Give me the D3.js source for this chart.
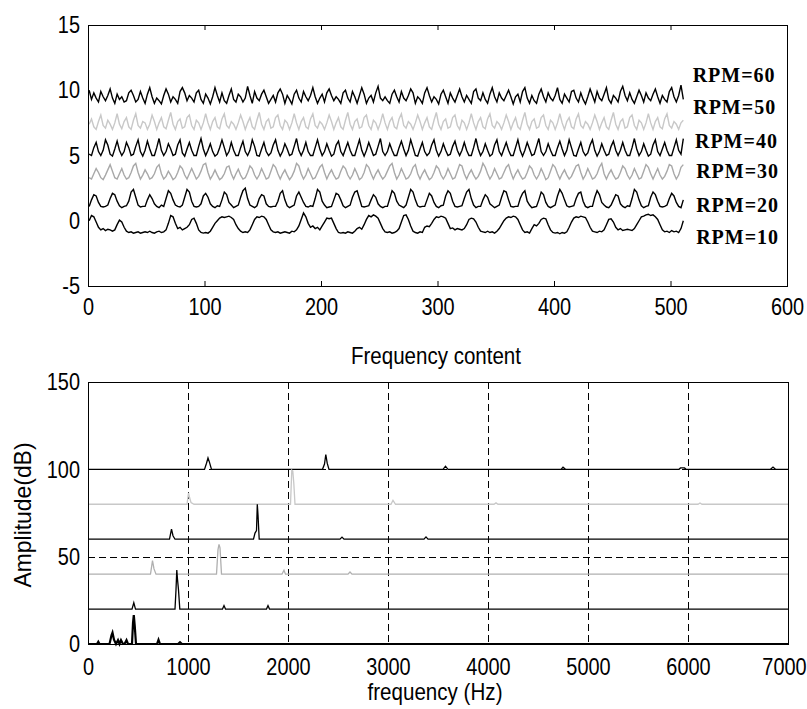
<!DOCTYPE html>
<html>
<head>
<meta charset="utf-8">
<script src="https://cdn.jsdelivr.net/npm/d3@7"></script>
<style>
  html, body { margin: 0; padding: 0; background: #fff; }
  svg { display: block; }
</style>
</head>
<body>
<svg id="chart" width="807" height="709"></svg>
<script>
// ---------------- time-domain traces (every 2nd sample) ----------------
const rpmLabels = ["RPM=60", "RPM=50", "RPM=40", "RPM=30", "RPM=20", "RPM=10"];

const rpm60 = [
  10.0,9.3,9.8,9.4,9.1,9.9,9.5,9.2,9.6,10.1,9.4,9.0,9.7,9.3,9.5,9.1,
  9.2,9.8,10.0,9.6,9.1,9.3,9.9,9.4,9.0,9.7,10.2,9.5,9.0,9.4,9.2,8.95,
  9.6,10.1,9.7,9.1,9.5,9.3,9.0,9.9,10.2,9.8,9.2,9.6,9.4,9.1,9.8,10.0,
  9.3,9.0,9.7,9.4,8.95,9.5,10.2,9.6,9.1,9.8,9.2,9.0,9.6,10.1,9.3,9.1,
  9.7,9.5,9.1,9.4,10.3,9.6,9.0,9.9,9.4,9.2,9.7,10.0,9.5,9.0,9.3,9.6,
  9.1,9.8,10.1,9.7,9.0,9.6,9.3,8.95,9.7,10.0,9.4,9.1,9.9,9.5,9.2,9.6,
  10.2,9.5,9.0,9.4,9.7,9.1,9.8,10.1,9.6,9.2,9.5,9.3,9.0,9.8,10.0,9.4,
  9.1,9.9,9.5,9.0,9.6,10.2,9.7,9.0,9.4,9.6,9.1,9.8,10.3,9.4,9.2,9.5,
  9.2,9.0,9.7,10.0,9.5,9.1,9.9,9.4,9.2,9.6,10.1,9.8,9.0,9.5,9.3,9.0,
  9.8,10.2,9.6,9.1,9.5,9.3,8.95,9.7,10.0,9.5,9.0,9.8,9.4,9.1,9.6,10.1,
  9.5,9.1,9.6,9.3,9.0,9.9,10.1,9.4,9.2,9.8,9.3,9.0,9.7,10.2,9.5,9.1,
  9.8,9.4,9.2,9.6,10.0,9.5,8.95,9.5,9.7,9.1,9.9,10.2,9.4,9.0,9.6,9.2,
  9.0,9.7,10.1,9.5,9.1,9.8,9.4,9.2,9.6,10.2,9.3,9.0,9.7,9.4,9.1,9.9,
  10.0,9.4,9.1,9.8,9.3,8.95,9.5,10.1,9.6,9.1,9.9,9.4,9.2,9.7,10.2,9.3,
  9.0,9.6,9.4,9.1,9.9,10.3,9.6,9.2,9.8,9.3,9.0,9.5,10.0,9.6,9.1,9.8,
  9.4,9.2,9.7,10.1,9.5,9.0,9.6,9.3,9.1,9.9,10.2,9.5,9.1,9.6,10.4,9.3
];
const rpm50 = [
  7.4,7.8,7.2,7.0,7.6,8.1,7.3,7.1,7.7,7.4,7.0,7.5,8.2,7.4,7.05,7.6,
  7.9,7.2,7.0,7.7,8.2,7.3,7.1,7.6,7.5,7.0,7.4,8.1,7.6,7.0,7.5,7.9,
  7.2,7.05,7.7,8.3,7.4,7.0,7.6,7.8,7.1,7.2,7.9,8.1,7.3,7.0,7.7,7.5,
  7.0,7.5,8.2,7.5,7.0,7.6,7.9,7.2,7.05,7.8,8.2,7.3,7.1,7.6,7.4,7.0,
  7.5,8.1,7.6,7.0,7.5,7.9,7.2,7.0,7.7,8.3,7.4,7.0,7.6,7.8,7.1,7.2,
  7.9,8.1,7.3,7.0,7.7,7.5,7.0,7.5,8.2,7.5,7.0,7.6,7.9,7.2,7.05,7.8,
  8.2,7.3,7.1,7.6,7.4,7.0,7.5,8.1,7.6,7.0,7.5,7.9,7.2,7.0,7.7,8.3,
  7.4,7.0,7.6,7.8,7.1,7.2,7.9,8.1,7.3,7.0,7.7,7.5,7.0,7.5,8.2,7.5,
  7.0,7.6,7.9,7.2,7.05,7.8,8.2,7.3,7.1,7.6,7.4,7.0,7.5,8.1,7.6,7.0,
  7.5,7.9,7.2,7.0,7.7,8.3,7.4,7.0,7.6,7.8,7.1,7.2,7.9,8.1,7.3,7.0,
  7.7,7.5,7.0,7.5,8.2,7.5,7.0,7.6,7.9,7.2,7.05,7.8,8.2,7.3,7.1,7.6,
  7.4,7.0,7.5,8.1,7.6,7.0,7.5,7.9,7.2,7.0,7.7,8.3,7.4,7.0,7.6,7.8,
  7.1,7.2,7.9,8.1,7.3,7.0,7.7,7.5,7.0,7.5,8.2,7.5,7.0,7.6,7.9,7.2,
  7.05,7.8,8.2,7.3,7.1,7.6,7.4,7.0,7.5,8.1,7.6,7.0,7.5,7.9,7.2,7.0,
  7.7,8.3,7.4,7.0,7.6,7.8,7.1,7.2,7.9,8.1,7.3,7.0,7.7,7.5,7.0,7.5,
  8.2,7.5,7.0,7.6,7.9,7.2,7.05,7.8,8.2,7.3,7.1,7.6,7.4,7.0,7.5,7.7
];
const rpm40 = [
  5.1,5.0,5.6,6.0,5.3,5.0,5.4,6.2,5.8,5.1,4.95,5.5,6.1,5.4,5.0,5.3,
  6.0,5.6,5.0,5.1,5.7,6.2,5.3,4.95,5.4,6.1,5.5,5.0,5.0,5.6,6.3,5.4,
  5.0,5.3,5.9,5.5,5.0,5.1,5.8,6.2,5.2,4.95,5.5,6.0,5.4,5.0,5.0,5.7,
  6.3,5.5,5.0,5.4,5.9,5.3,4.95,5.1,5.6,6.2,5.6,5.0,5.3,6.0,5.4,5.0,
  5.0,5.6,6.1,5.3,5.0,5.4,6.2,5.7,5.0,4.95,5.5,6.0,5.3,5.0,5.2,5.8,
  6.2,5.4,4.95,5.3,5.9,5.5,5.0,5.1,5.7,6.3,5.4,5.0,5.4,6.0,5.3,5.0,
  5.0,5.6,6.2,5.5,5.0,5.3,5.9,5.4,4.95,5.1,5.8,6.1,5.3,5.0,5.5,6.0,
  5.4,5.0,5.0,5.6,6.2,5.4,4.95,5.4,6.0,5.5,5.0,5.1,5.7,6.3,5.3,5.0,
  5.3,5.9,5.4,5.0,5.0,5.6,6.1,5.5,5.0,5.4,6.2,5.6,5.0,4.95,5.5,6.0,
  5.3,5.0,5.2,5.8,6.2,5.4,4.95,5.3,5.9,5.4,5.0,5.1,5.7,6.1,5.4,5.0,
  5.4,6.0,5.4,5.0,5.0,5.6,6.3,5.5,5.0,5.3,5.9,5.4,4.95,5.1,5.8,6.2,
  5.3,5.0,5.5,6.0,5.4,5.0,5.0,5.6,6.2,5.4,4.95,5.4,6.0,5.5,5.0,5.1,
  5.7,6.3,5.3,5.0,5.3,5.9,5.4,5.0,5.0,5.6,6.1,5.5,5.0,5.4,6.2,5.6,
  5.0,4.95,5.5,6.0,5.3,5.0,5.2,5.8,6.2,5.4,4.95,5.3,5.9,5.4,5.0,5.1,
  5.7,6.1,5.4,5.0,5.4,6.0,5.4,5.0,5.0,5.6,6.3,5.5,5.0,5.3,5.9,5.4,
  4.95,5.1,5.8,6.2,5.3,5.0,5.5,6.0,5.4,5.0,5.0,5.6,6.2,5.4,5.1,6.3
];
const rpm30 = [
  3.3,3.2,3.6,4.0,3.7,3.3,3.15,3.5,3.9,4.3,3.8,3.3,3.2,3.6,4.0,3.5,
  3.2,3.3,3.7,4.2,4.4,3.7,3.2,3.5,3.9,3.6,3.2,3.3,3.6,4.1,4.3,3.6,
  3.2,3.4,3.8,3.5,3.15,3.3,3.7,4.2,4.0,3.5,3.2,3.6,4.0,3.6,3.2,3.4,
  3.8,4.3,4.4,3.7,3.2,3.5,3.9,3.5,3.15,3.3,3.6,4.1,4.2,3.6,3.2,3.6,
  3.95,3.5,3.2,3.3,3.7,4.2,4.0,3.5,3.2,3.5,4.0,3.6,3.2,3.3,3.8,4.3,
  4.1,3.6,3.2,3.6,3.9,3.5,3.15,3.4,3.8,4.4,4.2,3.6,3.2,3.5,4.0,3.6,
  3.2,3.3,3.7,4.1,4.3,3.7,3.2,3.6,3.9,3.5,3.2,3.3,3.8,4.2,4.0,3.5,
  3.2,3.5,4.0,3.6,3.15,3.3,3.7,4.3,4.1,3.6,3.2,3.6,3.9,3.5,3.2,3.4,
  3.8,4.2,4.4,3.7,3.2,3.5,4.0,3.6,3.2,3.3,3.6,4.1,4.3,3.6,3.2,3.6,
  3.9,3.5,3.15,3.3,3.7,4.2,4.0,3.5,3.2,3.5,4.0,3.6,3.2,3.3,3.8,4.3,
  4.2,3.6,3.2,3.6,3.9,3.5,3.2,3.4,3.8,4.4,4.1,3.6,3.2,3.5,4.0,3.6,
  3.2,3.3,3.7,4.1,4.3,3.7,3.2,3.6,3.9,3.5,3.2,3.3,3.7,4.2,4.0,3.5,
  3.2,3.5,4.0,3.6,3.15,3.3,3.8,4.3,4.1,3.6,3.2,3.6,3.9,3.5,3.2,3.4,
  3.8,4.2,4.3,3.7,3.2,3.5,4.0,3.6,3.2,3.3,3.6,4.1,4.4,3.6,3.2,3.6,
  3.9,3.5,3.2,3.3,3.7,4.2,4.0,3.5,3.2,3.5,4.0,3.6,3.2,3.3,3.8,4.3,
  4.1,3.6,3.2,3.6,4.0,3.5,3.2,3.4,3.8,4.3,4.2,3.6,3.2,3.5,4.1,4.3
];
const rpm20 = [
  1.1,1.6,2.0,1.9,1.4,1.1,1.05,1.1,1.2,1.7,2.1,2.0,1.5,1.15,1.0,1.1,
  1.15,1.5,2.2,2.4,1.8,1.2,1.05,1.1,1.1,1.6,2.0,1.7,1.3,1.1,1.0,1.2,
  1.1,1.7,2.3,2.1,1.6,1.2,1.1,1.05,1.2,1.8,2.4,2.2,1.5,1.1,1.05,1.1,
  1.3,1.9,2.1,1.8,1.3,1.1,1.0,1.15,1.1,1.6,2.2,2.0,1.4,1.2,1.0,1.1,
  1.2,1.8,2.3,2.5,1.7,1.2,1.1,1.0,1.15,1.7,2.0,1.9,1.3,1.1,1.05,1.1,
  1.1,1.5,2.1,2.3,1.6,1.15,1.0,1.1,1.2,1.9,2.2,1.8,1.4,1.1,1.05,1.15,
  1.1,1.7,2.4,2.2,1.5,1.2,1.0,1.05,1.1,1.6,2.1,2.0,1.6,1.15,1.0,1.1,
  1.2,1.8,2.2,2.3,1.7,1.1,1.05,1.1,1.15,1.6,2.0,1.8,1.3,1.1,1.0,1.1,
  1.1,1.7,2.3,2.1,1.5,1.2,1.1,1.0,1.2,1.8,2.4,2.2,1.6,1.15,1.05,1.1,
  1.1,1.6,2.1,1.9,1.4,1.1,1.0,1.15,1.2,1.9,2.3,2.1,1.5,1.1,1.05,1.1,
  1.15,1.7,2.2,2.4,1.7,1.2,1.0,1.1,1.1,1.6,2.0,1.8,1.3,1.15,1.0,1.1,
  1.2,1.8,2.3,2.2,1.6,1.1,1.05,1.1,1.1,1.7,2.1,2.3,1.5,1.2,1.0,1.05,
  1.1,1.6,2.2,2.0,1.4,1.1,1.0,1.1,1.2,1.9,2.4,2.1,1.6,1.15,1.05,1.1,
  1.15,1.7,2.1,2.2,1.5,1.1,1.0,1.1,1.1,1.8,2.3,2.0,1.4,1.2,1.05,1.0,
  1.2,1.6,2.0,1.9,1.3,1.1,1.0,1.15,1.1,1.7,2.4,2.2,1.6,1.15,1.0,1.1,
  1.15,1.8,2.2,2.0,1.5,1.1,1.05,1.1,1.2,1.7,2.1,1.9,1.4,1.1,1.0,1.6
];
const rpm10 = [
  0.0,0.4,0.3,-0.1,-0.5,-0.7,-0.6,-0.75,-0.65,-0.7,-0.8,-0.7,-0.3,0.05,-0.1,-0.5,
  -0.8,-0.9,-0.85,-0.95,-0.9,-0.85,-0.95,-0.9,-0.85,-0.9,-0.8,-0.9,-0.95,-0.85,-0.8,-0.9,
  -0.85,-0.7,-0.2,0.4,0.3,-0.2,-0.6,-0.5,-0.7,-0.6,-0.5,-0.3,0.1,0.2,-0.2,-0.7,
  -0.9,-0.95,-0.9,-0.95,-0.8,-0.5,-0.2,0.0,0.2,0.3,0.25,0.3,0.35,0.25,0.1,-0.3,
  -0.6,-0.8,-0.9,-0.85,-0.9,-0.7,-0.3,0.1,0.3,0.25,0.35,0.3,0.1,-0.3,-0.7,-0.85,
  -0.9,-0.85,-0.95,-0.9,-0.85,-0.9,-0.95,-0.8,-0.85,-0.7,-0.4,0.1,0.6,0.3,-0.2,-0.5,
  -0.4,-0.6,-0.5,-0.7,-0.4,-0.1,0.2,0.15,0.2,-0.2,-0.6,-0.9,-0.95,-0.9,-0.95,-0.85,
  -0.9,-0.95,-0.8,-0.6,-0.5,-0.65,-0.3,0.1,0.4,0.3,0.45,0.35,0.2,-0.2,-0.6,-0.85,
  -0.9,-0.85,-0.95,-0.9,-0.8,-0.6,-0.1,0.4,0.45,0.1,-0.4,-0.8,-0.9,-0.95,-0.85,-0.9,
  -0.5,-0.4,-0.45,-0.2,0.1,0.3,0.25,0.35,0.3,0.2,-0.2,-0.6,-0.55,-0.7,-0.6,-0.65,
  -0.7,-0.6,-0.3,0.1,0.2,0.15,-0.1,-0.5,-0.8,-0.85,-0.9,-0.8,-0.9,-0.85,-0.95,-0.8,
  -0.6,-0.3,0.0,0.2,0.3,0.25,0.35,0.3,0.1,-0.3,-0.7,-0.9,-0.85,-0.95,-0.6,-0.3,
  -0.4,-0.2,0.1,0.2,0.15,-0.3,-0.7,-0.9,-0.95,-0.9,-1.0,-0.9,-0.95,-0.85,-0.5,-0.1,
  0.2,0.3,0.25,0.35,0.3,0.25,-0.1,-0.5,-0.8,-0.85,-0.9,-0.8,-0.85,-0.7,-0.3,0.1,
  0.15,-0.1,-0.5,-0.7,-0.6,-0.75,-0.7,-0.65,-0.7,-0.75,-0.6,-0.3,0.0,0.3,0.35,0.45,
  0.5,0.4,0.45,0.3,0.1,-0.3,-0.7,-0.85,-0.8,-0.9,-0.75,-0.85,-0.8,-0.9,-0.6,0.0
];

const timeTicksX = [0, 100, 200, 300, 400, 500, 600];
const timeTicksY = [-5, 0, 5, 10, 15];

// ---------------- spectra, each offset by 20 dB ----------------
const specFreq60 = [0,1165,1185,1200,1215,1235,2345,2365,2378,2392,2410,3550,3575,3600,4730,4750,4775,5910,5925,5965,5980,6825,6850,6875,7000];
const specAmp60  = [100,100,103.5,106.5,104,100,100,103,108.5,103.5,100,100,101.8,100,100,101.2,100,100,100.8,100.8,100,100,101.3,100,100];
const specFreq50 = [0,990,1005,1015,1030,1060,2025,2038,2048,2058,2070,3030,3050,3075,4060,4080,4100,6100,6120,6140,7000];
const specAmp50  = [80,80,86.5,84,81,80,80,99.5,99,92,80,80,82.3,80,80,80.8,80,80,80.7,80,80];
const specFreq40 = [0,815,835,850,870,1655,1670,1685,1693,1700,1712,2520,2540,2560,3360,3380,3400,7000];
const specAmp40  = [60,60,65.8,62,60,60,63.5,65,80,74,60,60,61.2,60,60,61.3,60,60];
const specFreq30 = [0,625,645,660,680,1285,1300,1310,1320,1335,1940,1960,1975,2600,2620,2640,7000];
const specAmp30  = [40,40,47.7,43,40,40,54,57,55,40,40,42.2,40,40,41.2,40,40];
const specFreq20 = [0,440,458,475,870,880,888,895,905,918,1345,1360,1375,1785,1800,1815,7000];
const specAmp20  = [20,20,23.6,20,20,31,42.3,37,31,20,20,22,20,20,22,20,20];
const specFreq10 = [0,90,103,115,215,235,245,260,280,300,315,330,350,365,385,400,420,440,450,458,468,480,690,705,720,900,920,940,7000];
const specAmp10  = [0,0,1.3,0,0,5,6.5,2.5,0,2.2,0,2.2,0,0,2.2,0,0,0,12,16.6,10,0,0,2.4,0,0,1.0,0,0];

const freqTicks = [0, 1000, 2000, 3000, 4000, 5000, 6000, 7000];
const ampTicks = [0, 50, 100, 150];

// ---------------- drawing ----------------
const svg = d3.select("#chart");
svg.append("rect").attr("width", 807).attr("height", 709).attr("fill", "#fff");

const textFont = '"Liberation Sans", Arial, sans-serif';
const textSize = 24;
const squeeze = 0.83;   // condensed look for the axis lettering

const traces = [
  { label: rpmLabels[0], values: rpm60, color: "#000000" },
  { label: rpmLabels[1], values: rpm50, color: "#c8c8c8" },
  { label: rpmLabels[2], values: rpm40, color: "#000000" },
  { label: rpmLabels[3], values: rpm30, color: "#a8a8a8" },
  { label: rpmLabels[4], values: rpm20, color: "#000000" },
  { label: rpmLabels[5], values: rpm10, color: "#000000" }
];
const spectra = [
  { f: specFreq60, a: specAmp60, color: "#000000", width: 1.3 },
  { f: specFreq50, a: specAmp50, color: "#c8c8c8", width: 1.3 },
  { f: specFreq40, a: specAmp40, color: "#000000", width: 1.3 },
  { f: specFreq30, a: specAmp30, color: "#b0b0b0", width: 1.3 },
  { f: specFreq20, a: specAmp20, color: "#000000", width: 1.3 },
  { f: specFreq10, a: specAmp10, color: "#000000", width: 2.2 }
];

function styleTicks(g) {
  g.select(".domain").remove();
  g.selectAll(".tick text")
    .attr("fill", "#000")
    .style("font-family", textFont)
    .style("font-size", textSize + "px")
    .each(function () {
      const t = d3.select(this);
      const x0 = +(t.attr("x") || 0);
      t.attr("x", x0 / squeeze).attr("transform", `scale(${squeeze},1)`);
    });
  g.selectAll(".tick line").attr("stroke", "#000");
}
// keep the right-most label inside the canvas
function pullLastLabel(g, dx) {
  const texts = g.selectAll(".tick text").nodes();
  const last = d3.select(texts[texts.length - 1]);
  last.attr("x", (+last.attr("x")) - dx / squeeze);
}
const plainNum = d => String(d);

// ---- upper panel: traces ----
const upperBox = { left: 88, right: 787, top: 25, bottom: 286 };
const xT = d3.scaleLinear().domain([0, 600]).range([upperBox.left, upperBox.right]);
const yT = d3.scaleLinear().domain([-5, 15]).range([upperBox.bottom, upperBox.top]);

const gTop = svg.append("g");

const traceLine = d3.line()
  .x((d, i) => xT(1 + 2 * i))
  .y(d => yT(d));

gTop.selectAll("path.trace")
  .data(traces.slice().reverse())
  .join("path")
  .attr("class", "trace")
  .attr("fill", "none")
  .attr("stroke", d => d.color)
  .attr("stroke-width", 1.4)
  .attr("d", d => traceLine(d.values));

gTop.append("g")
  .attr("transform", `translate(0,${upperBox.bottom})`)
  .call(d3.axisBottom(xT).tickValues(timeTicksX).tickFormat(plainNum)
    .tickSizeInner(-5).tickSizeOuter(0).tickPadding(12))
  .call(styleTicks);
gTop.append("g")
  .attr("transform", `translate(0,${upperBox.top})`)
  .call(d3.axisTop(xT).tickValues(timeTicksX).tickSizeInner(-5).tickSizeOuter(0).tickFormat(""))
  .call(styleTicks);
gTop.append("g")
  .attr("transform", `translate(${upperBox.left},0)`)
  .call(d3.axisLeft(yT).tickValues(timeTicksY).tickFormat(plainNum).tickSize(0).tickPadding(8))
  .call(styleTicks);

gTop.append("rect")
  .attr("x", upperBox.left + 0.5).attr("y", upperBox.top + 0.5)
  .attr("width", upperBox.right - upperBox.left).attr("height", upperBox.bottom - upperBox.top)
  .attr("fill", "none").attr("stroke", "#000").attr("stroke-width", 1);

// trace labels, anchored in data units
const labelPos = [[519, 11.0], [519.5, 8.55], [521, 5.95], [522, 3.65], [522, 1.05], [522, -1.4]];
gTop.selectAll("text.rpm")
  .data(traces)
  .join("text")
  .attr("class", "rpm")
  .attr("x", (d, i) => xT(labelPos[i][0]))
  .attr("y", (d, i) => yT(labelPos[i][1]))
  .attr("dominant-baseline", "middle")
  .style("font-family", '"Liberation Serif", "Times New Roman", serif')
  .style("font-weight", "bold")
  .style("font-size", "20px")
  .style("letter-spacing", "1px")
  .attr("fill", "#000")
  .text(d => d.label);

// ---- lower panel: spectra ----
const lowerBox = { left: 88, right: 788, top: 382, bottom: 644 };
const xB = d3.scaleLinear().domain([0, 7000]).range([lowerBox.left, lowerBox.right]);
const yB = d3.scaleLinear().domain([0, 150]).range([lowerBox.bottom, lowerBox.top]);

const gBot = svg.append("g");

// dashed grid
gBot.selectAll("line.vgrid")
  .data(freqTicks.filter(v => v > 0 && v < 7000))
  .join("line")
  .attr("class", "vgrid")
  .attr("x1", d => Math.round(xB(d)) + 0.5).attr("x2", d => Math.round(xB(d)) + 0.5)
  .attr("y1", lowerBox.top).attr("y2", lowerBox.bottom)
  .attr("stroke", "#000").attr("stroke-width", 1)
  .attr("stroke-dasharray", "7,4");
gBot.selectAll("line.hgrid")
  .data(ampTicks.filter(v => v > 0 && v < 150))
  .join("line")
  .attr("class", "hgrid")
  .attr("x1", lowerBox.left).attr("x2", lowerBox.right)
  .attr("y1", d => Math.round(yB(d)) + 0.5).attr("y2", d => Math.round(yB(d)) + 0.5)
  .attr("stroke", "#000").attr("stroke-width", 1)
  .attr("stroke-dasharray", "7,4");

const specLine = d3.line()
  .x(d => xB(d[0]))
  .y(d => yB(d[1]));

gBot.selectAll("path.spec")
  .data(spectra)
  .join("path")
  .attr("class", "spec")
  .attr("fill", "none")
  .attr("stroke", d => d.color)
  .attr("stroke-width", d => d.width)
  .attr("d", d => specLine(d.f.map((f, i) => [f, d.a[i]])));

gBot.append("g")
  .attr("transform", `translate(0,${lowerBox.bottom})`)
  .call(d3.axisBottom(xB).tickValues(freqTicks).tickFormat(plainNum).tickSize(0).tickPadding(14))
  .call(styleTicks)
  .call(g => pullLastLabel(g, 4));
gBot.append("g")
  .attr("transform", `translate(${lowerBox.left},0)`)
  .call(d3.axisLeft(yB).tickValues(ampTicks).tickFormat(plainNum).tickSize(0).tickPadding(8))
  .call(styleTicks);

gBot.append("rect")
  .attr("x", lowerBox.left + 0.5).attr("y", lowerBox.top + 0.5)
  .attr("width", lowerBox.right - lowerBox.left).attr("height", lowerBox.bottom - lowerBox.top)
  .attr("fill", "none").attr("stroke", "#000").attr("stroke-width", 1);

// titles
function title(x, y, w, txt, rotate) {
  svg.append("text")
    .attr("transform", `translate(${x},${y})` + (rotate ? " rotate(-90)" : ""))
    .attr("text-anchor", "middle")
    .attr("textLength", w)
    .attr("lengthAdjust", "spacingAndGlyphs")
    .style("font-family", textFont).style("font-size", textSize + "px")
    .attr("fill", "#000")
    .text(txt);
}
title(436, 364, 170, "Frequency content", false);
title(435, 700, 135, "frequency (Hz)", false);
title(31, 515, 145, "Amplitude(dB)", true);
</script>
</body>
</html>
